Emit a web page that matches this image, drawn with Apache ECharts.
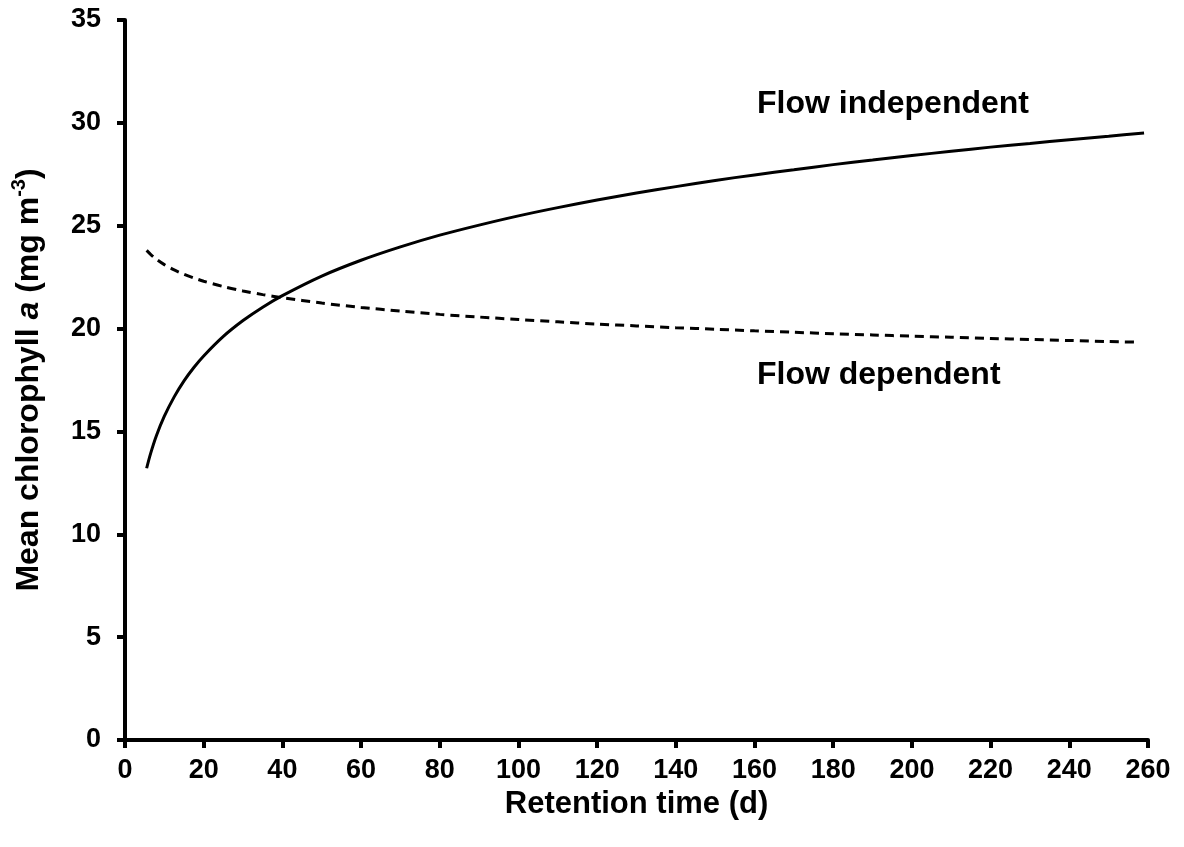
<!DOCTYPE html>
<html>
<head>
<meta charset="utf-8">
<script src="https://cdn.jsdelivr.net/npm/echarts@6/dist/echarts.min.js"></script>
<style>
html,body{margin:0;padding:0;background:#fff;}
#chart{width:1184px;height:847px;}
</style>
</head>
<body>
<div id="chart"></div>
<script>
// Retention time (d)
const retentionIndep = [5.5, 6.5, 8, 10, 12.5, 15, 17.5, 20, 25, 30, 35, 40, 50, 60, 70, 80, 90, 100, 110, 120, 130, 140, 150, 160, 170, 180, 190, 200, 210, 220, 230, 240, 250, 259];
const flowIndependent = [13.21, 13.92, 14.80, 15.74, 16.68, 17.46, 18.11, 18.67, 19.62, 20.39, 21.04, 21.60, 22.55, 23.32, 23.97, 24.54, 25.03, 25.48, 25.88, 26.25, 26.59, 26.90, 27.20, 27.47, 27.72, 27.97, 28.19, 28.41, 28.62, 28.82, 29.00, 29.18, 29.35, 29.51];
const retentionDep = [5.5, 6.5, 8, 10, 12.5, 15, 17.5, 20, 25, 30, 35, 40, 50, 60, 70, 80, 90, 100, 110, 120, 130, 140, 150, 160, 170, 180, 190, 200, 210, 220, 230, 240, 250, 257];
const flowDependent = [23.80, 23.61, 23.37, 23.11, 22.85, 22.64, 22.46, 22.30, 22.04, 21.83, 21.65, 21.50, 21.24, 21.03, 20.85, 20.69, 20.56, 20.44, 20.33, 20.22, 20.13, 20.04, 19.97, 19.89, 19.82, 19.75, 19.69, 19.63, 19.58, 19.52, 19.47, 19.42, 19.37, 19.34];
const xTicks = { min: 0, max: 260, interval: 20 };
const yTicks = { min: 0, max: 35, interval: 5 };
const labelIndep = 'Flow independent';
const labelDep = 'Flow dependent';

const chart = echarts.init(document.getElementById('chart'));
const FONT = '"Liberation Sans", Arial, sans-serif';
const axisCommon = {
  type: 'value',
  splitLine: { show: false },
  axisLine: { show: true, onZero: false, lineStyle: { color: '#000', width: 4 } },
  axisTick: { show: true, inside: false, length: 8, lineStyle: { color: '#000', width: 4 } },
  axisLabel: { color: '#000', fontFamily: FONT, fontWeight: 'bold', fontSize: 27 }
};
chart.setOption({
  animation: false,
  backgroundColor: '#fff',
  grid: { left: 125, right: 36, top: 20, bottom: 107, containLabel: false },
  xAxis: Object.assign({}, axisCommon, {
    min: xTicks.min, max: xTicks.max, interval: xTicks.interval,
    axisLabel: Object.assign({}, axisCommon.axisLabel, { margin: 17 }),
    name: 'Retention time (d)',
    nameLocation: 'middle',
    nameGap: 44,
    nameTextStyle: { color: '#000', fontFamily: FONT, fontWeight: 'bold', fontSize: 31 }
  }),
  yAxis: Object.assign({}, axisCommon, {
    min: yTicks.min, max: yTicks.max, interval: yTicks.interval,
    axisLabel: Object.assign({}, axisCommon.axisLabel, { margin: 24 }),
    name: '{b|Mean chlorophyll }{i|a}{b| (mg m}{s|-3}{b|)}',
    nameLocation: 'middle',
    nameGap: 80,
    nameTextStyle: {
      color: '#000', fontFamily: FONT, fontWeight: 'bold', fontSize: 32,
      rich: {
        b: { color: '#000', fontFamily: FONT, fontWeight: 'bold', fontSize: 32, lineHeight: 36, verticalAlign: 'bottom' },
        i: { color: '#000', fontFamily: FONT, fontWeight: 'bold', fontStyle: 'italic', fontSize: 32, lineHeight: 36, verticalAlign: 'bottom' },
        s: { color: '#000', fontFamily: FONT, fontWeight: 'bold', fontSize: 20, lineHeight: 20, verticalAlign: 'top' }
      }
    }
  }),
  series: [
    {
      type: 'line',
      name: labelIndep,
      data: retentionIndep.map((x, i) => [x, flowIndependent[i]]),
      smooth: 0.3,
      showSymbol: false,
      lineStyle: { color: '#000', width: 3, type: 'solid' },
      z: 3
    },
    {
      type: 'line',
      name: labelDep,
      data: retentionDep.map((x, i) => [x, flowDependent[i]]),
      smooth: 0.3,
      showSymbol: false,
      lineStyle: { color: '#000', width: 3, type: [9, 6] },
      z: 3
    }
  ],
  graphic: [
    { type: 'text', left: 757, top: 88, style: { text: labelIndep, fill: '#000', font: 'bold 32px ' + FONT } },
    { type: 'text', left: 757, top: 359, style: { text: labelDep, fill: '#000', font: 'bold 32px ' + FONT } }
  ]
});
</script>
</body>
</html>
